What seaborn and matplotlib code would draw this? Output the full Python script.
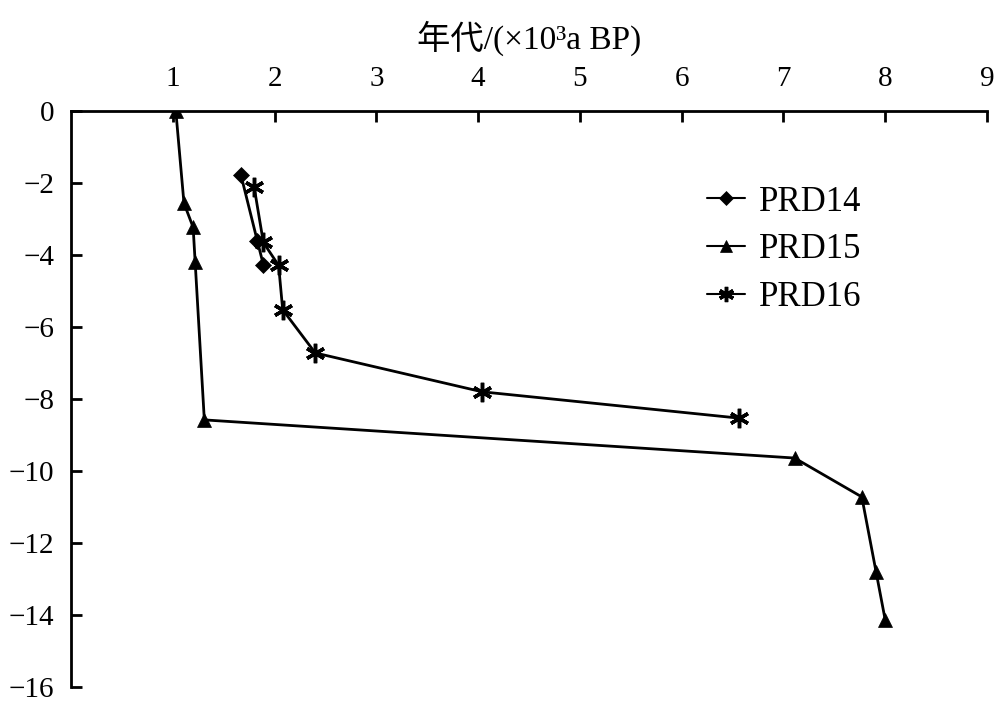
import numpy as np
import pandas as pd
import matplotlib
matplotlib.use("Agg")
import matplotlib.pyplot as plt
import seaborn as sns

# Age (x10^3 a BP) and depth (m) for each core
prd14_age = [1.67, 1.83, 1.89]
prd14_depth = [-1.78, -3.6, -4.27]

prd15_age = [1.03, 1.11, 1.20, 1.22, 1.31, 7.11, 7.77, 7.91, 8.00]
prd15_depth = [0.0, -2.56, -3.23, -4.2, -8.58, -9.64, -10.72, -12.8, -14.14]

prd16_age = [1.80, 1.89, 2.04, 2.08, 2.40, 4.04, 6.56]
prd16_depth = [-2.12, -3.65, -4.29, -5.52, -6.72, -7.8, -8.53]

x_ticks = [1, 2, 3, 4, 5, 6, 7, 8, 9]
y_ticks = [0, -2, -4, -6, -8, -10, -12, -14, -16]

sns.set_theme(style="white")
plt.rcParams["font.family"] = ["Liberation Serif", "Noto Sans CJK SC", "DejaVu Sans"]
plt.rcParams["text.color"] = "black"
plt.rcParams["axes.labelcolor"] = "black"

fig = plt.figure(figsize=(10, 7.11), dpi=100)
ax = fig.add_axes([0.071, 0.0338, 0.916, 0.81])

series = [
    ("PRD14", prd14_age, prd14_depth, "D", 8),
    ("PRD15", prd15_age, prd15_depth, "^", 10),
    ("PRD16", prd16_age, prd16_depth, (6, 2, 0), 14),
]
for name, xs, ys, mk, ms in series:
    df = pd.DataFrame({"age": xs, "depth": ys})
    sns.lineplot(data=df, x="age", y="depth", ax=ax, sort=False, estimator=None,
                 color="black", linewidth=2, marker=mk, markersize=ms,
                 markeredgewidth=2.5 if name == "PRD16" else 0.5,
                 markeredgecolor="black", markerfacecolor="black", label=name)

ax.set_xlim(0, 9)
ax.set_ylim(-16, 0)
ax.set_xticks(x_ticks)
ax.set_yticks(y_ticks)

ax.xaxis.set_ticks_position("top")
ax.xaxis.set_label_position("top")
ax.spines["bottom"].set_visible(False)
ax.spines["right"].set_visible(False)
for s in ["top", "left"]:
    ax.spines[s].set_color("black")
    ax.spines[s].set_linewidth(2)
ax.tick_params(axis="x", direction="in", length=8, width=2, pad=14, labelsize=21, colors="black")
ax.tick_params(axis="y", direction="in", length=8, width=2, pad=12, labelsize=21, colors="black")
ax.tick_params(axis="x", which="both", top=True, bottom=False)
ax.tick_params(axis="y", left=True, right=False)

ax.set_xlabel("年代/(×10³a BP)", fontsize=24, labelpad=12, color="black")
ax.set_ylabel("")

leg = ax.legend(loc="upper left", bbox_to_anchor=(0.66, 0.925), frameon=False,
                fontsize=25, handlelength=1.1, handletextpad=0.4, labelspacing=0.42)
for h, ms in zip(leg.legend_handles, [7, 8, 11]):
    h.set_markersize(ms)
    h.set_linewidth(1.5)
for t in leg.get_texts():
    t.set_color("black")

fig.savefig("out.png", dpi=100)
